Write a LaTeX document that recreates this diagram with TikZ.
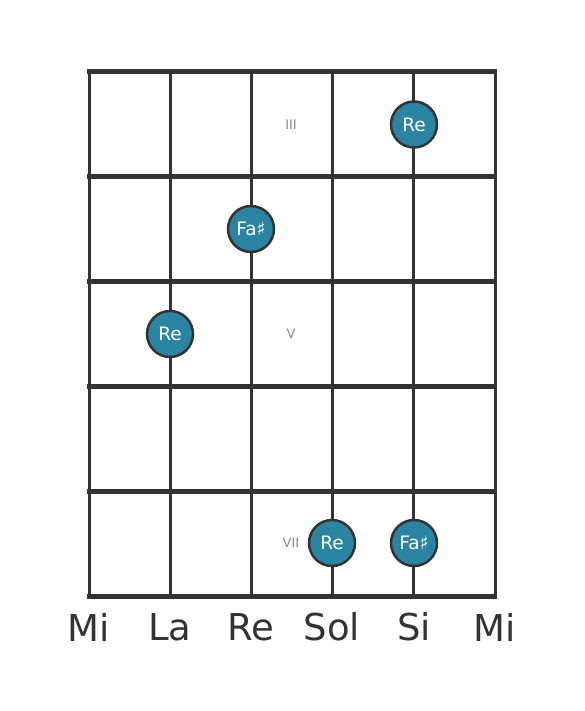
\documentclass[tikz,border=0pt]{standalone}
\usepackage{fontspec}
\setmainfont{DejaVu Sans}
\usepackage{tikz}
\definecolor{fretline}{HTML}{333333}
\definecolor{notefill}{HTML}{2B84A1}
\definecolor{numgray}{HTML}{888888}
\tikzset{
    note/.style={circle,draw=fretline,fill=notefill,line width=2.5pt,minimum size=46pt,inner sep=0pt,text=white,font=\fontsize{18.5}{18.5}\selectfont},
    fretnum/.style={text=numgray,font=\fontsize{13}{13}\selectfont},
    stringname/.style={text=fretline,font=\fontsize{37}{37}\selectfont}
}

\begin{document}
\begin{tikzpicture}[x=1pt,y=-1pt]
                            \useasboundingbox (0,0) rectangle (584,711);
                            \foreach \s in {0,...,5}
                                \draw[fretline,line width=3pt] (89+81.2*\s,72) -- (89+81.2*\s,596);
                            \foreach \f in {0,...,5}
                                \draw[fretline,line width=5pt] (87,72+104.8*\f) -- (497,72+104.8*\f);
                            \node[fretnum] (three) at (291,125) {III};
                            \node[fretnum] (five) at (291,334) {V};
                            \node[fretnum] (seven) at (291,543) {VII};
                            \node[note] (reone) at (414,124.5) {Re};
                            \node[note] (fatwo) at (251,229) {Fa♯};
                            \node[note] (rethree) at (170,334) {Re};
                            \node[note] (refour) at (332,543) {Re};
                            \node[note] (fafive) at (414,543) {Fa♯};
                            \node[stringname] (mi) at (89,627) {Mi};
                            \node[stringname] (la) at (170,627) {La};
                            \node[stringname] (re) at (251,627) {Re};
                            \node[stringname] (sol) at (332,627) {Sol};
                            \node[stringname] (si) at (414,627) {Si};
                            \node[stringname] (mitop) at (495,627) {Mi};
                        \end{tikzpicture}
\end{document}
